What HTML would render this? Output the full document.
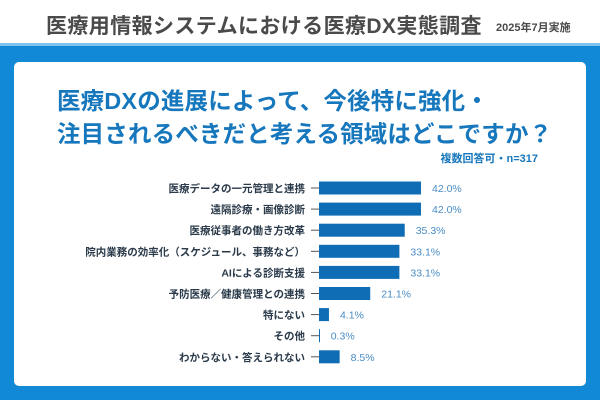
<!DOCTYPE html>
<html><head><meta charset="utf-8"><style>
body{margin:0;width:600px;height:400px;overflow:hidden;background:#fff;font-family:"Liberation Sans","Noto Sans CJK JP",sans-serif;}
#hdr{position:absolute;left:0;top:0;width:600px;height:43px;background:#fff;}
#hdr .t{position:absolute;left:46px;top:10px;font-size:21px;font-weight:bold;color:#4a4a4a;white-space:nowrap;letter-spacing:0.4px}
#hdr .d{position:absolute;left:496px;top:19px;font-size:11px;font-weight:bold;color:#4a4a4a;white-space:nowrap}
#line{position:absolute;left:0;top:43px;width:600px;height:3px;background:#7cc4ee}
#bg{position:absolute;left:0;top:46px;width:600px;height:354px;background:#1189d6}
#card{position:absolute;left:14px;top:62px;width:572px;height:324px;background:#fff;border-radius:5px}
.q{position:absolute;left:57px;font-size:23.5px;font-weight:bold;color:#1777bd;white-space:nowrap;letter-spacing:0.15px}
#n{position:absolute;right:62px;top:150px;font-size:11px;font-weight:bold;color:#1777bd}
</style></head><body>
<div id="hdr">
<div class="t">医療用情報システムにおける医療DX実態調査</div>
<div class="d">2025年7月実施</div>
</div>
<div id="line"></div>
<div id="bg"></div>
<div id="card"></div>
<div class="q" style="top:82px">医療DXの進展によって、今後特に強化・</div>
<div class="q" style="top:115px">注目されるべきだと考える領域はどこですか？</div>
<div id="n">複数回答可・n=317</div>
<svg id="chart" width="600" height="400" style="position:absolute;left:0;top:0"></svg>
<script>
const categories=["医療データの一元管理と連携","遠隔診療・画像診断","医療従事者の働き方改革","院内業務の効率化（スケジュール、事務など）","AIによる診断支援","予防医療／健康管理との連携","特にない","その他","わからない・答えられない"];
const values=[42.0,42.0,35.3,33.1,33.1,21.1,4.1,0.3,8.5];
const valueLabels=["42.0%","42.0%","35.3%","33.1%","33.1%","21.1%","4.1%","0.3%","8.5%"];
const svg=document.getElementById('chart');
const NS="http://www.w3.org/2000/svg";
const x0=319,pxPer=102/42,y0=188,step=21.1,bh=13;
const xs=v=>x0+v*pxPer, ys=i=>y0+i*step;
categories.forEach((c,i)=>{
  const y=ys(i);
  const t=document.createElementNS(NS,'text');
  
  
  t.setAttribute('x',305);t.setAttribute('y',y+4);t.setAttribute('text-anchor','end');
  t.setAttribute('font-size','10.5');t.setAttribute('font-weight','bold');t.setAttribute('fill','#2a3a4a');
  t.setAttribute('font-family','"Liberation Sans","Noto Sans CJK JP",sans-serif');
  t.textContent=c;svg.appendChild(t);
  const tk=document.createElementNS(NS,'line');
  
  
  tk.setAttribute('x1',311);tk.setAttribute('x2',x0);tk.setAttribute('y1',y);tk.setAttribute('y2',y);
  tk.setAttribute('stroke','#555');tk.setAttribute('stroke-width','1');svg.appendChild(tk);
  const r=document.createElementNS(NS,'rect');
  
  
  r.setAttribute('x',x0);r.setAttribute('y',y-bh/2);r.setAttribute('width',Math.max(values[i]*pxPer,1));r.setAttribute('height',bh);
  r.setAttribute('fill','#0f6db5');svg.appendChild(r);
  const v=document.createElementNS(NS,'text');
  
  
  v.setAttribute('x',xs(values[i])+11);v.setAttribute('y',y+4);
  v.setAttribute('font-size','10.5');v.setAttribute('fill','#4a8cc4');
  v.setAttribute('font-family','"Liberation Sans",sans-serif');
  v.textContent=valueLabels[i];svg.appendChild(v);
});
</script>
</body></html>
